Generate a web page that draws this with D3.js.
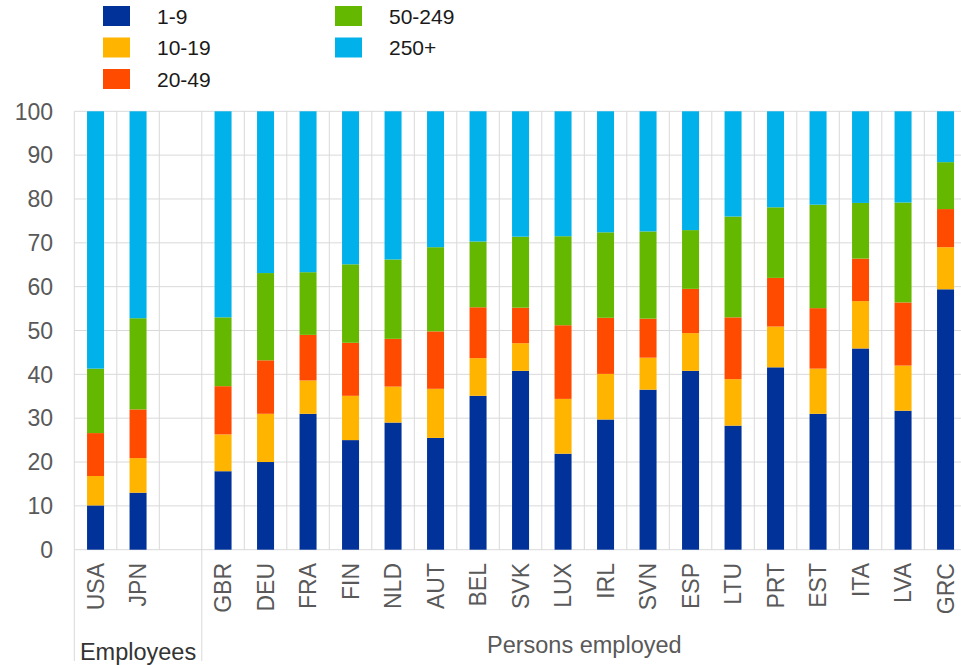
<!DOCTYPE html>
<meta charset="utf-8">
<style>
body { margin: 0; background: #fff; }
text { font-family: "Liberation Sans", Arial, sans-serif; }
.grid line { stroke: #d9d9d9; stroke-width: 1; }
</style>
<body>
<div id="chart"></div>
<script src="https://d3js.org/d3.v7.min.js"></script>
<script>
// share of employment by firm size class (%)
var countries = ["USA", "JPN", "", "GBR", "DEU", "FRA", "FIN", "NLD", "AUT", "BEL", "SVK",
                 "LUX", "IRL", "SVN", "ESP", "LTU", "PRT", "EST", "ITA", "LVA", "GRC"];
var sizeClasses = ["1-9", "10-19", "20-49", "50-249", "250+"];
var colors = ["#003299", "#ffb400", "#ff4b00", "#65b800", "#00b1ea"];
var yTicks = [0, 10, 20, 30, 40, 50, 60, 70, 80, 90, 100];

var s1to9    = [10.1, 13.0, null, 17.9, 20.0, 31.0, 25.0, 29.0, 25.5, 35.1, 40.8, 21.9, 29.7, 36.5, 40.8, 28.3, 41.6, 31.0, 45.9, 31.7, 59.4];
var s10to19  = [6.7, 7.9, null, 8.4, 11.0, 7.6, 10.1, 8.2, 11.2, 8.6, 6.3, 12.5, 10.4, 7.3, 8.6, 10.6, 9.3, 10.3, 10.8, 10.3, 9.6];
var s20to49  = [9.8, 11.1, null, 11.0, 12.2, 10.4, 12.1, 10.9, 13.1, 11.6, 8.1, 16.8, 12.8, 8.9, 10.1, 14.1, 11.1, 13.8, 9.7, 14.4, 8.7];
var s50to249 = [14.7, 20.8, null, 15.7, 19.9, 14.3, 17.9, 18.1, 19.2, 15.0, 16.2, 20.3, 19.5, 19.9, 13.4, 23.0, 16.1, 23.6, 12.7, 22.8, 10.7];
var s250plus = [58.7, 47.2, null, 47.0, 36.9, 36.7, 34.9, 33.8, 31.0, 29.7, 28.6, 28.5, 27.6, 27.4, 27.1, 24.0, 21.9, 21.3, 20.9, 20.8, 11.6];

var groups = [
  {name: "Employees", from: "USA", to: "", baseline: 660, color: "#333333"},
  {name: "Persons employed", from: "GBR", to: "GRC", baseline: 653, color: "#595959"}
];

var width = 961, height = 665;
var plotLeft = 74.3, plotRight = 966.8, plotTop = 111.3, plotBottom = 549.7;

var svg = d3.select("#chart").append("svg")
    .attr("width", width)
    .attr("height", height);

var rows = countries.map(function(c, i) {
  return {idx: i, country: c, "1-9": s1to9[i] || 0, "10-19": s10to19[i] || 0, "20-49": s20to49[i] || 0,
          "50-249": s50to249[i] || 0, "250+": s250plus[i] || 0};
});

var x = d3.scaleBand().domain(d3.range(countries.length)).range([plotLeft, plotRight]);
var y = d3.scaleLinear().domain([0, 100]).range([plotBottom, plotTop]);
var color = d3.scaleOrdinal().domain(sizeClasses).range(colors);
var barW = 17;

// grid
var grid = svg.append("g").attr("class", "grid");
grid.selectAll(".h").data(yTicks).enter().append("line")
    .attr("x1", plotLeft).attr("x2", width)
    .attr("y1", function(d) { return y(d); }).attr("y2", function(d) { return y(d); });
grid.selectAll(".v").data(d3.range(countries.length)).enter().append("line")
    .attr("x1", function(d) { return x(d); }).attr("x2", function(d) { return x(d); })
    .attr("y1", plotTop).attr("y2", plotBottom);

// group separators below the axis
grid.selectAll(".sep").data([0, 3]).enter().append("line")
    .attr("x1", function(d) { return x(d); }).attr("x2", function(d) { return x(d); })
    .attr("y1", plotBottom).attr("y2", 661);

// y axis labels
svg.append("g").selectAll("text").data(yTicks).enter().append("text")
    .attr("x", 53)
    .attr("y", function(d) { return y(d); })
    .attr("dy", "0.36em")
    .attr("text-anchor", "end")
    .style("font-size", "23px")
    .style("fill", "#595959")
    .text(function(d) { return d; });

// bars
var series = d3.stack().keys(sizeClasses)(rows);
svg.append("g").selectAll("g").data(series).enter().append("g")
    .attr("fill", function(d) { return color(d.key); })
  .selectAll("rect").data(function(d) { return d.filter(function(p) { return p.data.country !== ""; }); })
  .enter().append("rect")
    .attr("x", function(d) { return x(d.data.idx) + (x.bandwidth() - barW) / 2; })
    .attr("width", barW)
    .attr("y", function(d) { return y(d[1]); })
    .attr("height", function(d) { return y(d[0]) - y(d[1]); });

// category labels
svg.append("g").selectAll("text").data(rows.filter(function(r) { return r.country !== ""; })).enter()
    .append("text")
    .attr("transform", function(d) {
      return "translate(" + (x(d.idx) + x.bandwidth() / 2 + 8) + ",563) rotate(-90)";
    })
    .attr("text-anchor", "end")
    .style("font-size", "23px")
    .style("fill", "#595959")
    .text(function(d) { return d.country; });

// group labels
svg.append("g").selectAll("text").data(groups).enter().append("text")
    .attr("x", function(d) {
      var a = x(countries.indexOf(d.from)), b = x(countries.indexOf(d.to)) + x.bandwidth();
      return (a + b) / 2;
    })
    .attr("y", function(d) { return d.baseline; })
    .attr("text-anchor", "middle")
    .style("font-size", "23.5px")
    .style("fill", function(d) { return d.color; })
    .text(function(d) { return d.name; });

// legend
var legend = svg.append("g").selectAll("g").data(sizeClasses).enter().append("g")
    .attr("transform", function(d, i) {
      var col = i < 3 ? 0 : 1, row = i < 3 ? i : i - 3;
      return "translate(" + (103 + col * 232) + "," + (6 + row * 31.5) + ")";
    });
legend.append("rect")
    .attr("width", 27).attr("height", 20)
    .attr("fill", function(d) { return color(d); });
legend.append("text")
    .attr("x", 54).attr("y", 10).attr("dy", "0.36em")
    .style("font-size", "21px")
    .style("fill", "#1a1a1a")
    .text(function(d) { return d; });
</script>
</body>
